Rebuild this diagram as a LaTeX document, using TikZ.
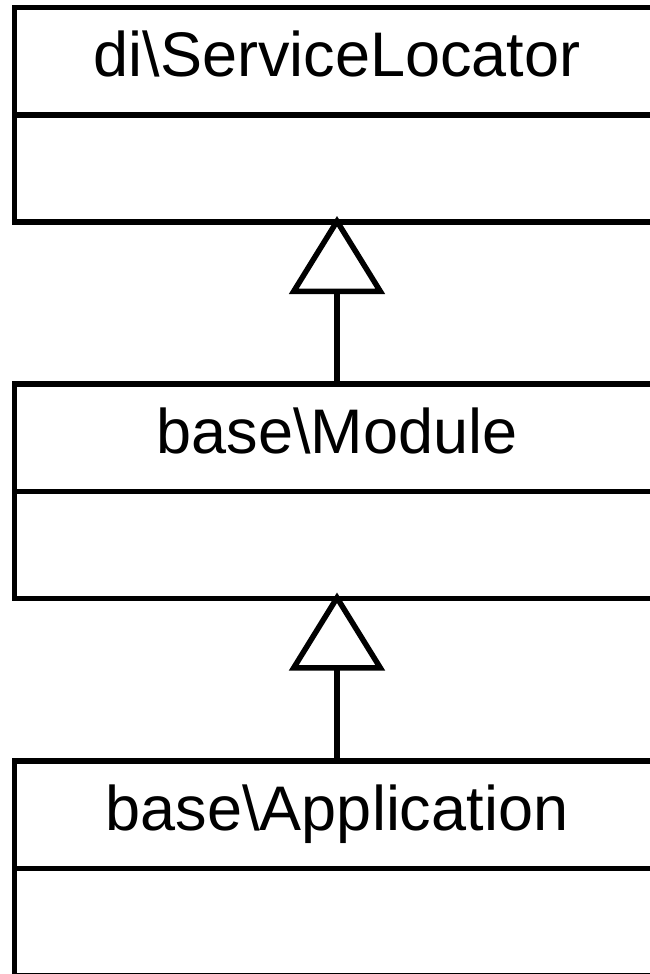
\documentclass[tikz,border=0pt]{standalone}
\usepackage{fontspec}
\setmainfont{Liberation Sans}
\usetikzlibrary{arrows.meta}
\begin{document}
\begin{tikzpicture}[x=1pt,y=1pt,
  classbox/.style={draw, line width=5.5pt, minimum width=645pt, minimum height=214.5pt, inner sep=0pt, outer sep=0pt},
  classname/.style={anchor=base, inner sep=0pt, font=\fontsize{63}{70}\selectfont},
  inherit/.style={line width=5.5pt, -{Triangle[open, length=78pt, width=95pt, line width=5.5pt]}, shorten >=-6pt}
]
\useasboundingbox[clip] (0,0) rectangle (650,-974);
\fill[white] (0,0) rectangle (650,-974);
\node[classbox] (sl) at (337,-114.75) {};
\node[classbox] (mod) at (337,-491.25) {};
\node[classbox] (app) at (337,-868.25) {};
\draw[line width=5.5pt] (sl.west) -- (sl.east);
\draw[line width=5.5pt] (mod.west) -- (mod.east);
\draw[line width=5.5pt] (app.west) -- (app.east);
\node[classname] (slname) at ([yshift=-69.5pt]sl.north) {di\textbackslash ServiceLocator};
\node[classname] (modname) at ([yshift=-69.5pt]mod.north) {base\textbackslash Module};
\node[classname] (appname) at ([yshift=-69.5pt]app.north) {base\textbackslash Application};
\draw[inherit] (mod.north) -- (sl.south);
\draw[inherit] (app.north) -- (mod.south);
\end{tikzpicture}
\end{document}
